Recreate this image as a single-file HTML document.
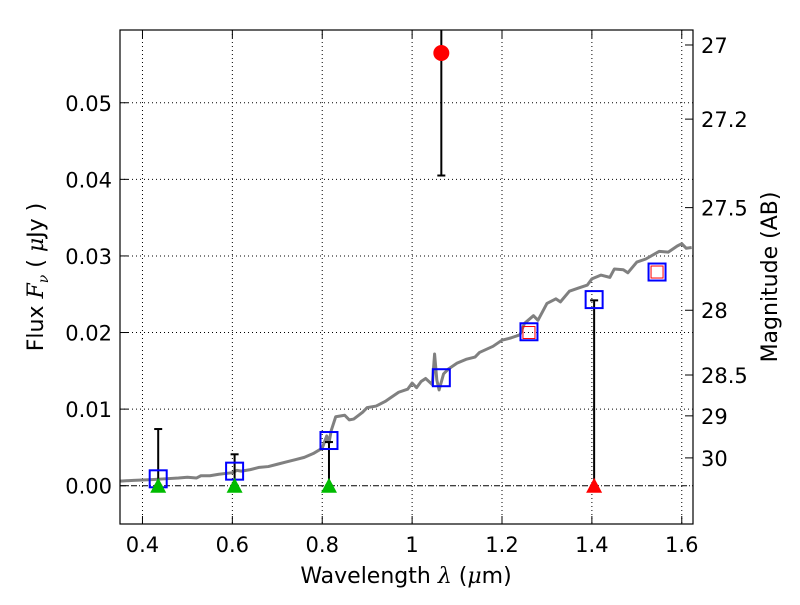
<!DOCTYPE html>
<html><head><meta charset="utf-8"><style>
html,body{margin:0;padding:0;background:#fff;}
svg text{font-family:"DejaVu Sans","Liberation Sans",sans-serif;}
</style></head><body>
<svg id="chart" width="800" height="600" xmlns="http://www.w3.org/2000/svg"></svg>
<script>
const specWave=[0.35,0.38,0.42,0.45,0.48,0.5,0.52,0.53,0.55,0.57,0.6,0.61,0.62,0.64,0.66,0.68,0.7,0.72,0.74,0.76,0.78,0.8,0.81,0.815,0.82,0.83,0.85,0.86,0.87,0.89,0.9,0.92,0.94,0.95,0.97,0.99,1.0,1.01,1.02,1.03,1.045,1.05,1.055,1.06,1.07,1.08,1.1,1.12,1.14,1.15,1.18,1.2,1.22,1.24,1.25,1.27,1.28,1.3,1.32,1.33,1.35,1.37,1.39,1.4,1.42,1.44,1.45,1.47,1.48,1.5,1.52,1.55,1.57,1.59,1.6,1.61,1.622];
const specFlux=[0.0006,0.0007,0.0008,0.0009,0.001,0.0011,0.0010,0.0013,0.0013,0.0015,0.0017,0.0020,0.0019,0.0021,0.0024,0.0025,0.0028,0.0031,0.0034,0.0037,0.0042,0.0049,0.0065,0.0056,0.0072,0.0090,0.0092,0.0086,0.0087,0.0096,0.0102,0.0104,0.0110,0.0114,0.0122,0.0126,0.0134,0.0128,0.0136,0.0140,0.0132,0.0172,0.0138,0.0125,0.0146,0.0152,0.0160,0.0165,0.0168,0.0174,0.0182,0.0190,0.0193,0.0197,0.0212,0.0222,0.0216,0.0238,0.0244,0.0240,0.0254,0.0258,0.0262,0.0270,0.0275,0.0272,0.0283,0.0282,0.0278,0.0292,0.0296,0.0306,0.0305,0.0313,0.0316,0.0310,0.0311];
const sqWave=[0.435,0.605,0.815,1.065,1.26,1.405,1.545];
const sqFlux=[0.0009,0.0019,0.0059,0.0141,0.0201,0.0243,0.0279];
const redSqWave=[1.26,1.545];
const redSqFlux=[0.0200,0.0279];
const limWave=[0.435,0.605,0.815,1.405];
const limUpper=[0.0074,0.0041,0.0057,0.0242];
const limColor=['#00bb00','#00bb00','#00bb00','#ff0000'];
const detWave=[1.065];
const detFlux=[0.0565];
const detLow=[0.0405];
const detHigh=[0.07];
const xTicks=[0.4,0.6,0.8,1.0,1.2,1.4,1.6];
const xTickLabels=['0.4','0.6','0.8','1','1.2','1.4','1.6'];
const yTicks=[0,0.01,0.02,0.03,0.04,0.05];
const yTickLabels=['0.00','0.01','0.02','0.03','0.04','0.05'];
const magTicks=[27,27.2,27.5,28,28.5,29,30];

const L=120,R=693,T=30,B=524,X0=0.35,X1=1.625,Y0=-0.005,Y1=0.0595;
const sx=v=>L+(v-X0)/(X1-X0)*(R-L);
const sy=v=>B-(v-Y0)/(Y1-Y0)*(B-T);
const magToFlux=m=>Math.pow(10,(23.9-m)/2.5);
const svg=document.getElementById('chart');
const NS='http://www.w3.org/2000/svg';
function mk(tag,attrs,parent){const e=document.createElementNS(NS,tag);for(const k in attrs)e.setAttribute(k,attrs[k]);(parent||svg).appendChild(e);return e;}

const clip=mk('clipPath',{id:'pc'});mk('rect',{x:L,y:T,width:R-L,height:B-T},clip);
const grid=mk('g',{});


xTicks.forEach(t=>{if(t<=X1){mk('line',{x1:sx(t),x2:sx(t),y1:T,y2:B,stroke:'#000','stroke-width':1,'stroke-dasharray':'1,3'},grid);}});
yTicks.forEach(t=>{mk('line',{x1:L,x2:R,y1:sy(t),y2:sy(t),stroke:'#000','stroke-width':1,'stroke-dasharray':t===0?'6,2,1,2':'1,3'},grid);});

const plot=mk('g',{'clip-path':'url(#pc)'});
const sp=mk('polyline',{points:specWave.map((w,i)=>sx(w)+','+sy(specFlux[i])).join(' '),fill:'none',stroke:'#808080','stroke-width':3,'stroke-linejoin':'round'},plot);



limWave.forEach((w,i)=>{
  const g=mk('g',{},plot);
  
  
  mk('line',{x1:sx(w),x2:sx(w),y1:sy(0),y2:sy(limUpper[i]),stroke:'#000','stroke-width':2},g);
  mk('line',{x1:sx(w)-4,x2:sx(w)+4,y1:sy(limUpper[i]),y2:sy(limUpper[i]),stroke:'#000','stroke-width':2},g);
  mk('line',{x1:sx(w)-4,x2:sx(w)+4,y1:sy(0),y2:sy(0),stroke:'#000','stroke-width':2},g);
});
detWave.forEach((w,i)=>{
  const g=mk('g',{},plot);
  
  
  mk('line',{x1:sx(w),x2:sx(w),y1:sy(detLow[i]),y2:sy(detHigh[i]),stroke:'#000','stroke-width':2},g);
  mk('line',{x1:sx(w)-4,x2:sx(w)+4,y1:sy(detLow[i]),y2:sy(detLow[i]),stroke:'#000','stroke-width':2},g);
});
sqWave.forEach((w,i)=>{
  const r=mk('rect',{x:sx(w)-8.5,y:sy(sqFlux[i])-8.5,width:17,height:17,fill:'none',stroke:'#0000ff','stroke-width':2},plot);
  
  
});
redSqWave.forEach((w,i)=>{
  const r=mk('rect',{x:sx(w)-6,y:sy(redSqFlux[i])-6,width:12,height:12,fill:'none',stroke:'#ff0000','stroke-width':1},plot);
  
  
});
limWave.forEach((w,i)=>{
  const x=sx(w),y=sy(0);
  const p=mk('polygon',{points:`${x-8},${y+7} ${x+8},${y+7} ${x},${y-8}`,fill:limColor[i]},plot);
  
  
});
detWave.forEach((w,i)=>{
  const c=mk('circle',{cx:sx(w),cy:sy(detFlux[i]),r:8,fill:'#ff0000'},plot);
  
  
});

const frame=mk('rect',{x:L,y:T,width:R-L,height:B-T,fill:'none',stroke:'#000','stroke-width':1.2});



xTicks.forEach((t,i)=>{if(t>X1)return;const x=sx(t);
  mk('line',{x1:x,x2:x,y1:B,y2:B-8,stroke:'#000'});mk('line',{x1:x,x2:x,y1:T,y2:T+8,stroke:'#000'});
  const tx=mk('text',{x:x,y:B+28,'font-size':21,'text-anchor':'middle'});tx.textContent=xTickLabels[i];
  
  
});
yTicks.forEach((t,i)=>{const y=sy(t);
  mk('line',{x1:L,x2:L+8,y1:y,y2:y,stroke:'#000'});
  const tx=mk('text',{x:L-8,y:y+8,'font-size':21,'text-anchor':'end'});tx.textContent=yTickLabels[i];
  
  
});
magTicks.forEach(m=>{const y=sy(magToFlux(m));
  mk('line',{x1:R,x2:R-8,y1:y,y2:y,stroke:'#000'});
  const tx=mk('text',{x:R+8,y:y+8,'font-size':21});tx.textContent=String(m);
  
  
});
</script>
<svg style="position:absolute;left:0;top:0" width="800" height="600" xmlns="http://www.w3.org/2000/svg">
<text x="406" y="583" font-size="22" text-anchor="middle" font-family="DejaVu Sans, sans-serif">Wavelength  <tspan font-style="italic" font-family="DejaVu Serif, serif">λ</tspan> (<tspan font-style="italic" font-family="DejaVu Serif, serif">μ</tspan>m)</text>
<text transform="translate(43,277) rotate(-90)" font-size="22" text-anchor="middle" font-family="DejaVu Sans, sans-serif">Flux  <tspan font-style="italic" font-family="DejaVu Serif, serif">F</tspan><tspan font-style="italic" font-size="14" dy="5" font-family="DejaVu Serif, serif">ν</tspan><tspan dy="-5">  (  </tspan><tspan font-style="italic" font-family="DejaVu Serif, serif">μ</tspan>Jy )</text>
<text transform="translate(777,277) rotate(-90)" font-size="22" text-anchor="middle" font-family="DejaVu Sans, sans-serif">Magnitude (AB)</text>
</svg>
</body></html>
